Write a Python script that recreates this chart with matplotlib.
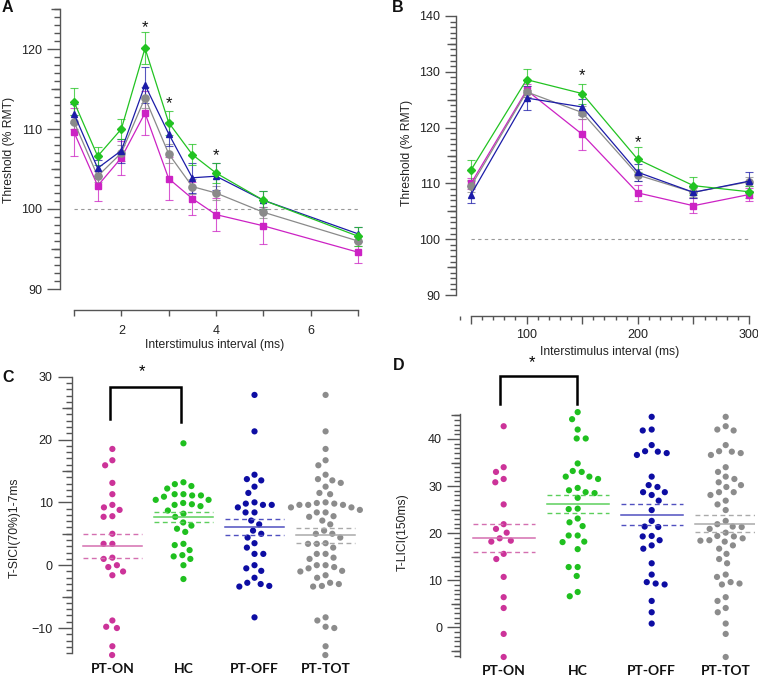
import numpy as np
import matplotlib
matplotlib.use("Agg")
import matplotlib.pyplot as plt
from matplotlib.ticker import FixedLocator, MultipleLocator, FuncFormatter

plt.rcParams['font.family'] = ['Liberation Sans', 'DejaVu Sans']

# ---------------- data ----------------
isi_a = [1, 1.5, 2, 2.5, 3, 3.5, 4, 5, 7]
a_hc = [113.4, 106.6, 110.0, 120.1, 110.8, 106.8, 104.5, 101.1, 96.6]
a_off = [111.9, 105.1, 107.3, 115.5, 109.4, 103.9, 104.1, 101.1, 96.9]
a_tot = [110.9, 104.1, 107.0, 113.9, 106.9, 102.8, 102.0, 99.6, 96.0]
a_on = [109.6, 102.9, 106.4, 112.0, 103.8, 101.3, 99.3, 97.9, 94.6]
a_hc_err = [1.7, 1.1, 1.3, 2.0, 1.5, 1.3, 1.3, 1.1, 1.2]
a_off_err = [1.2, 1.0, 1.5, 2.2, 1.5, 1.9, 1.7, 1.1, 0.9]
a_tot_err = [0.9, 0.7, 1.0, 1.3, 1.2, 0.9, 0.9, 0.7, 0.6]
a_on_err = [3.0, 1.9, 2.1, 2.8, 2.7, 2.1, 2.1, 2.3, 1.3]
a_star_x = [2.5, 3, 4]
a_star_y = [122.7, 113.2, 106.7]

isi_b = [50, 100, 150, 200, 250, 300]
b_hc = [112.4, 128.6, 126.1, 114.3, 109.6, 108.5]
b_off = [108.0, 125.3, 123.7, 112.0, 108.4, 110.4]
b_tot = [109.5, 126.4, 122.7, 111.5, 108.4, 110.3]
b_on = [110.0, 126.7, 118.8, 108.3, 106.0, 108.0]
b_hc_err = [1.8, 1.9, 1.8, 2.2, 1.6, 1.1]
b_off_err = [1.6, 2.2, 1.5, 1.5, 1.0, 1.7]
b_tot_err = [1.0, 1.0, 1.1, 1.0, 0.8, 0.8]
b_on_err = [1.0, 1.2, 2.8, 1.4, 1.3, 1.1]
b_star_x = [150, 200]
b_star_y = [129.3, 117.3]

groups = ['PT-ON', 'HC', 'PT-OFF', 'PT-TOT']

c_on = [18.5, 16.7, 15.9, 13.1, 11.3, 9.6, 9.2, 8.8, 7.8, 7.7, 5.0, 3.4, 3.4,
        1.2, 1.0, 0.0, -0.3, -1.0, -1.6, -8.8, -9.8, -10.0, -12.9, -14.3]
c_hc = [19.4, 13.2, 12.9, 12.6, 12.2, 11.3, 11.3, 11.1, 11.1, 10.9, 10.4, 10.4,
        9.9, 9.7, 9.6, 9.4, 8.7, 8.2, 7.7, 6.8, 6.3, 5.8, 5.3, 3.4, 3.2, 2.4,
        1.6, 1.4, 1.0, 0.0, -2.2]
c_off = [27.1, 21.3, 14.4, 13.7, 13.5, 12.5, 11.5, 10.0, 9.8, 9.6, 9.6, 9.2,
         8.4, 8.4, 7.1, 6.5, 5.5, 5.0, 4.4, 3.5, 2.8, 1.8, 1.8, 0.0, -0.5,
         -0.9, -2.0, -2.8, -3.0, -3.3, -3.4, -8.3]
c_tot = [27.1, 21.3, 18.5, 16.7, 15.9, 14.4, 13.7, 13.5, 13.1, 12.5, 11.5,
         11.3, 10.0, 9.9, 9.8, 9.6, 9.6, 9.6, 9.2, 9.2, 8.8, 8.4, 8.4, 7.8,
         7.7, 7.1, 6.5, 5.5, 5.0, 5.0, 4.4, 3.5, 3.4, 3.4, 2.8, 1.8, 1.8, 1.2,
         1.0, 0.0, 0.0, -0.3, -0.5, -0.9, -1.0, -1.6, -2.0, -2.8, -3.0, -3.3,
         -3.4, -8.3, -8.8, -9.8, -10.0, -12.9, -14.3]
c_mean = [3.1, 7.7, 6.1, 4.8]
c_hi = [5.0, 8.5, 7.3, 5.9]
c_lo = [1.1, 6.8, 4.8, 3.6]

d_on = [42.7, 34.0, 33.0, 31.5, 30.8, 26.1, 21.9, 20.9, 20.1, 18.9, 18.4,
        18.2, 15.6, 14.5, 10.7, 6.4, 4.1, -1.4, -6.3]
d_hc = [45.7, 44.2, 42.0, 40.1, 40.1, 34.8, 33.2, 33.0, 32.0, 32.0, 31.5,
        29.6, 29.1, 28.7, 28.5, 27.5, 25.2, 25.1, 23.1, 22.3, 21.5, 19.5,
        19.5, 18.2, 18.1, 16.6, 12.8, 12.8, 10.9, 7.5, 6.6]
d_off = [44.7, 42.0, 41.8, 38.7, 37.4, 37.3, 37.0, 36.6, 32.0, 30.2, 29.8,
         28.7, 28.7, 28.1, 26.9, 24.9, 22.6, 21.4, 21.3, 19.4, 19.3, 18.5,
         17.4, 16.7, 13.6, 11.2, 9.6, 9.3, 9.1, 5.6, 3.2, 0.8]
d_tot = [44.7, 42.7, 42.0, 41.8, 38.7, 37.4, 37.3, 37.0, 36.6, 34.0, 33.0,
         32.0, 31.5, 30.8, 30.2, 29.8, 28.7, 28.7, 28.1, 26.9, 26.1, 24.9,
         22.6, 21.9, 21.4, 21.3, 20.9, 20.1, 19.4, 19.3, 18.9, 18.5, 18.4,
         18.2, 17.4, 16.7, 15.6, 14.5, 13.6, 11.2, 10.7, 9.6, 9.3, 9.1, 6.4,
         5.6, 4.1, 3.2, 0.8, -1.4, -6.3]
d_mean = [18.9, 26.2, 23.9, 22.0]
d_hi = [22.0, 28.1, 26.1, 23.8]
d_lo = [16.1, 24.2, 21.7, 20.2]

# ---------------- style ----------------
col_line = {'HC': '#22c322', 'PT-OFF': '#1c1ca8', 'PT-TOT': '#8a8a8a', 'PT-ON': '#cc22c4'}
col_dot = {'PT-ON': '#cc3399', 'HC': '#1fc01f', 'PT-OFF': '#0d0da3', 'PT-TOT': '#8c8c8c'}
col_mean = {'PT-ON': '#d46fb0', 'HC': '#5ccf5c', 'PT-OFF': '#5050c0', 'PT-TOT': '#aaaaaa'}
spine_col = '#555555'

W, H = 758, 680
fig = plt.figure(figsize=(W / 100, H / 100), dpi=100)


def px_axes(l, t, r, b):
    return fig.add_axes([l / W, 1 - b / H, (r - l) / W, (b - t) / H])


def style_axes(ax):
    for s in ['top', 'right']:
        ax.spines[s].set_visible(False)
    for s in ['left', 'bottom']:
        ax.spines[s].set_color(spine_col)
        ax.spines[s].set_linewidth(1.0)
    ax.tick_params(colors=spine_col, labelcolor='#222222', labelsize=9)
    ax.patch.set_alpha(0)


def medium_ticks(ax, ticks, length):
    sec = ax.secondary_yaxis('left')
    sec.set_yticks(ticks)
    sec.tick_params(length=length, width=1.0, color=spine_col, labelleft=False)
    sec.spines['left'].set_visible(False)
    return sec


# ---------------- Panel A ----------------
axA = px_axes(60, 9, 370, 289)
style_axes(axA)
axA.set_xlim(0.704, 7.254)
axA.set_ylim(90, 125)
axA.spines['left'].set_bounds(90, 125)
axA.spines['bottom'].set_bounds(1, 7)
axA.spines['bottom'].set_position(('outward', 15))
axA.yaxis.set_major_locator(FixedLocator([90, 100, 110, 120]))
axA.yaxis.set_minor_locator(MultipleLocator(1))
axA.xaxis.set_major_locator(FixedLocator([2, 4, 6]))
axA.xaxis.set_minor_locator(FixedLocator([1, 3, 5, 7]))
axA.tick_params(axis='y', which='major', length=9.4, width=1.0, pad=3.5)
axA.tick_params(axis='y', which='minor', length=4.3, width=1.0, color=spine_col)
axA.tick_params(axis='x', which='both', length=4.3, width=1.0, pad=6.5, color=spine_col)
medium_ticks(axA, [95, 105, 115, 125], 6.5)
axA.plot([1, 7], [100, 100], ls=(0, (3, 3)), color='#999999', lw=0.8)

seriesA = [('PT-ON', a_on, a_on_err, 's', 4.3), ('PT-TOT', a_tot, a_tot_err, 'o', 5.2),
           ('PT-OFF', a_off, a_off_err, '^', 5.0), ('HC', a_hc, a_hc_err, 'D', 4.3)]
for name, y, e, m, ms in seriesA:
    c = col_line[name]
    axA.errorbar(isi_a, y, yerr=e, fmt='none', ecolor=c, elinewidth=0.8, capsize=3,
                 capthick=0.8, alpha=0.75, zorder=2)
    axA.plot(isi_a, y, color=c, lw=0.9, marker=m, ms=ms, mfc=c, mec=c, zorder=3)
for x, y in zip(a_star_x, a_star_y):
    axA.text(x, y, '*', ha='center', va='center', fontsize=12, color='#111111')

# ---------------- Panel B ----------------
axB = px_axes(456, 16, 755, 295)
style_axes(axB)
axB.set_xlim(36.5, 305.4)
axB.set_ylim(90, 140)
axB.spines['left'].set_bounds(90, 140)
axB.spines['bottom'].set_bounds(50, 300)
axB.spines['bottom'].set_position(('outward', 15))
axB.yaxis.set_major_locator(FixedLocator([90, 100, 110, 120, 130, 140]))
axB.yaxis.set_minor_locator(MultipleLocator(1))
axB.xaxis.set_major_locator(FixedLocator([50, 100, 150, 200, 250, 300]))
axB.xaxis.set_minor_locator(MultipleLocator(10))
axB.xaxis.set_major_formatter(FuncFormatter(lambda v, p: '%d' % v if v % 100 == 0 else ''))
axB.tick_params(axis='y', which='major', length=8, width=1.0, pad=3.5)
axB.tick_params(axis='y', which='minor', length=4.3, width=1.0, color=spine_col)
axB.tick_params(axis='x', which='major', length=5.8, width=1.0, pad=3.5)
axB.tick_params(axis='x', which='minor', length=2.9, width=1.0, color=spine_col)
medium_ticks(axB, [95, 105, 115, 125, 135], 6.3)
axB.plot([50, 300], [100, 100], ls=(0, (3, 3)), color='#999999', lw=0.8)

seriesB = [('PT-ON', b_on, b_on_err, 's', 4.3), ('PT-TOT', b_tot, b_tot_err, 'o', 5.2),
           ('PT-OFF', b_off, b_off_err, '^', 5.0), ('HC', b_hc, b_hc_err, 'D', 4.3)]
for name, y, e, m, ms in seriesB:
    c = col_line[name]
    axB.errorbar(isi_b, y, yerr=e, fmt='none', ecolor=c, elinewidth=0.8, capsize=3,
                 capthick=0.8, alpha=0.75, zorder=2)
    axB.plot(isi_b, y, color=c, lw=0.9, marker=m, ms=ms, mfc=c, mec=c, zorder=3)
for x, y in zip(b_star_x, b_star_y):
    axB.text(x, y, '*', ha='center', va='center', fontsize=12, color='#111111')


# ---------------- swarm helper ----------------
def swarm_offsets(vals, ppu_y, d):
    vals = np.asarray(vals, float)
    order = np.argsort(-vals, kind='stable')
    placed = []
    offs = np.zeros(len(vals))
    for idx in order:
        y = vals[idx] * ppu_y
        cands = [0.0]
        for (xo, yo) in placed:
            dy = y - yo
            if abs(dy) < d:
                dx = np.sqrt(d * d - dy * dy)
                cands += [xo + dx, xo - dx]
        cands = sorted(cands, key=lambda c: (abs(c), c))
        for c in cands:
            ok = True
            for (xo, yo) in placed:
                if (c - xo) ** 2 + (y - yo) ** 2 < d * d - 1e-6:
                    ok = False
                    break
            if ok:
                offs[idx] = c
                placed.append((c, y))
                break
    return offs


def dot_panel(ax, data, means, his, los, d_px):
    ppu_y = abs(ax.transData.transform((0, 1))[1] - ax.transData.transform((0, 0))[1])
    ppu_x = abs(ax.transData.transform((1, 0))[0] - ax.transData.transform((0, 0))[0])
    for i, (name, vals) in enumerate(zip(groups, data)):
        offs = swarm_offsets(vals, ppu_y, d_px) / ppu_x
        ax.scatter(i + offs, vals, s=20, color=col_dot[name], edgecolors='none',
                   zorder=3, clip_on=False)
        cm = col_mean[name]
        ax.plot([i - 0.42, i + 0.42], [means[i]] * 2, color=cm, lw=1.1, zorder=4)
        for v in (his[i], los[i]):
            ax.plot([i - 0.42, i + 0.42], [v] * 2, color=cm, lw=1.0,
                    ls=(0, (3.5, 2.5)), zorder=4)


def cat_axes(ax):
    style_axes(ax)
    ax.spines['bottom'].set_visible(False)
    ax.set_xticks(range(4))
    ax.set_xticklabels(groups, fontfamily=['Lato', 'DejaVu Sans'], fontweight='bold',
                       fontsize=10, color='#111111')
    ax.tick_params(axis='x', length=0, pad=4.5)


# ---------------- Panel C ----------------
axC = px_axes(71.5, 376.7, 370, 656.3)
cat_axes(axC)
axC.set_xlim(-0.575, 3.625)
axC.set_ylim(-14.5, 30)
axC.spines['left'].set_bounds(-14, 30)
axC.yaxis.set_major_locator(FixedLocator([-10, 0, 10, 20, 30]))
axC.yaxis.set_minor_locator(FixedLocator(list(range(-14, 31))))
axC.tick_params(axis='y', which='major', length=10, width=1.0, pad=3.5)
axC.tick_params(axis='y', which='minor', length=4.3, width=1.0, color=spine_col)
medium_ticks(axC, [-5, 5, 15, 25], 7.2)
dot_panel(axC, [c_on, c_hc, c_off, c_tot], c_mean, c_hi, c_lo, 8.8)
axC.plot([-0.04, -0.04, 0.96, 0.96], [23.3, 28.4, 28.4, 22.8], color='black', lw=1.8,
         clip_on=False, solid_joinstyle='miter')
axC.text(0.42, 30.8, '*', ha='center', va='center', fontsize=12, clip_on=False)

# ---------------- Panel D ----------------
axD = px_axes(460, 410.7, 755, 658.4)
cat_axes(axD)
axD.set_xlim(-0.59, 3.396)
axD.set_ylim(-6.6, 46.0)
axD.spines['left'].set_bounds(-6.25, 45.2)
axD.yaxis.set_major_locator(FixedLocator([0, 10, 20, 30, 40]))
axD.yaxis.set_minor_locator(FixedLocator(list(range(-6, 46))))
axD.tick_params(axis='y', which='major', length=9.4, width=1.0, pad=3.5)
axD.tick_params(axis='y', which='minor', length=4.3, width=1.0, color=spine_col)
medium_ticks(axD, [-5, 5, 15, 25, 35, 45], 6.5)
dot_panel(axD, [d_on, d_hc, d_off, d_tot], d_mean, d_hi, d_lo, 9.0)
axD.plot([-0.05, -0.05, 0.99, 0.99], [47.5, 53.3, 53.3, 47.5], color='black', lw=1.8,
         clip_on=False, solid_joinstyle='miter')
axD.text(0.38, 56.2, '*', ha='center', va='center', fontsize=12, clip_on=False)

# ---------------- text labels ----------------
def ftext(x, y, s, **kw):
    fig.text(x / W, 1 - y / H, s, **kw)


lab = dict(fontsize=8.7, color='#222222', ha='center', va='center')
ftext(9, 150, 'Threshold (% RMT)', rotation=90, **lab)
ftext(407, 153, 'Threshold (% RMT)', rotation=90, **lab)
ftext(215, 345, 'Interstimulus interval (ms)', **lab)
ftext(610, 352, 'Interstimulus interval (ms)', **lab)
ftext(15, 528, 'T-SICI(70%)1-7ms', rotation=90, **lab)
ftext(403, 532, 'T-LICI(150ms)', rotation=90, **lab)

pan = dict(fontsize=11.5, fontweight='bold', ha='center', va='center', color='#111111')
ftext(7, 8, 'A', **pan)
ftext(398, 8, 'B', **pan)
ftext(8, 378, 'C', **pan)
ftext(399, 366, 'D', **pan)

fig.savefig('out.png', dpi=100)
